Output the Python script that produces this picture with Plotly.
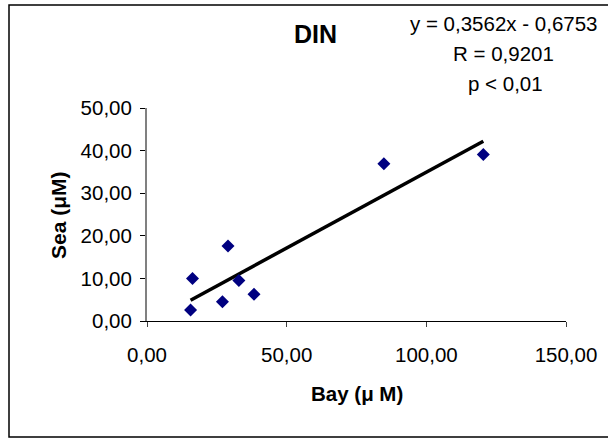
import plotly.graph_objects as go

# DIN: Bay vs Sea concentrations (uM)
bay = [15.6, 16.3, 27.0, 29.0, 32.9, 38.3, 84.8, 120.4]
sea = [2.6, 10.0, 4.5, 17.6, 9.5, 6.3, 36.9, 39.1]

SLOPE = 0.3562
INTERCEPT = -0.6753

x_ticks = [0, 50, 100, 150]
y_ticks = [0, 10, 20, 30, 40, 50]

FONT = "Liberation Sans, Arial, sans-serif"

W, H = 608, 439
L, R, T, B = 147, 42, 108, 118
PW, PH = W - L - R, H - T - B


def px_x(p):
    return (p - L) / PW


def px_y(p):
    return (H - B - p) / PH


trend_x = [min(bay), max(bay)]
trend_y = [SLOPE * v + INTERCEPT for v in trend_x]

fig = go.Figure()
fig.add_trace(go.Scatter(
    x=trend_x, y=trend_y, mode="lines",
    line=dict(color="black", width=3.5),
    showlegend=False, hoverinfo="skip",
))
fig.add_trace(go.Scatter(
    x=bay, y=sea, mode="markers",
    marker=dict(symbol="diamond", size=10, color="#000080"),
    showlegend=False,
))

annotations = [
    dict(text="<b>DIN</b>", x=px_x(315.5), y=px_y(34), font=dict(size=25)),
    dict(text="y = 0,3562x - 0,6753", x=px_x(503), y=px_y(23), font=dict(size=20.5)),
    dict(text="R = 0,9201", x=px_x(503), y=px_y(53), font=dict(size=20.5)),
    dict(text="p < 0,01", x=px_x(505), y=px_y(83), font=dict(size=20.5)),
    dict(text="<b>Bay (μ M)</b>", x=px_x(357), y=px_y(393), font=dict(size=20.5)),
    dict(text="<b>Sea (μM)</b>", x=px_x(58), y=px_y(215), font=dict(size=21),
         textangle=-90),
]
for a in annotations:
    a.update(xref="paper", yref="paper", showarrow=False,
             xanchor="center", yanchor="middle")
    a["font"].update(family=FONT, color="black")

fig.update_layout(
    width=W, height=H,
    margin=dict(l=L, r=R, t=T, b=B),
    paper_bgcolor="white",
    plot_bgcolor="white",
    font=dict(family=FONT, size=20, color="black"),
    separators=",.",
    annotations=annotations,
    shapes=[dict(
        type="rect", xref="paper", yref="paper",
        x0=px_x(9), x1=px_x(612), y0=px_y(437), y1=px_y(5),
        line=dict(color="black", width=1.5),
    )],
    xaxis=dict(
        range=[0, 150], tickvals=x_ticks, tickformat=".2f",
        showgrid=False, zeroline=False,
        showline=True, linecolor="black", linewidth=1,
        ticks="outside", ticklen=5, tickcolor="#404040",
        ticklabelstandoff=10,
        tickfont=dict(size=20.5),
    ),
    yaxis=dict(
        range=[0, 50], tickvals=y_ticks, tickformat=".2f",
        showgrid=False, zeroline=False,
        showline=True, linecolor="#808080", linewidth=2,
        ticks="outside", ticklen=5, tickcolor="black",
        ticklabelstandoff=4,
        tickfont=dict(size=20.5),
    ),
)

fig.write_html(
    "out.html",
    config={"displayModeBar": False},
    post_script="document.body.style.margin='0';",
)
